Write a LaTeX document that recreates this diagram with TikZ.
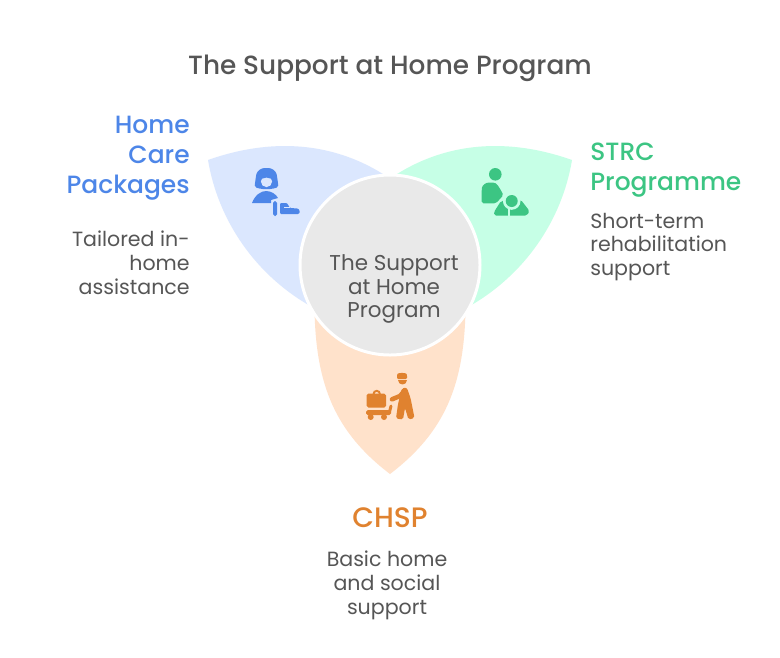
\documentclass[tikz,border=0pt]{standalone}
\usepackage{fontspec}
\setmainfont{Poppins}
\newfontfamily\medfont{Poppins Medium}
\definecolor{blueink}{HTML}{4D86E8}
\definecolor{bluepetal}{HTML}{DBE7FE}
\definecolor{greenink}{HTML}{3CC583}
\definecolor{greenpetal}{HTML}{C6FFE6}
\definecolor{orangeink}{HTML}{E0822F}
\definecolor{orangepetal}{HTML}{FFE2CB}
\definecolor{hubgray}{HTML}{E9E9E9}
\definecolor{textgray}{HTML}{565656}
\tikzset{
  headtext/.style={inner sep=0pt,font=\medfont\fontsize{14.2}{17}\selectfont},
  bodytext/.style={inner sep=0pt,text=textgray,font=\fontsize{11.7}{13.6}\selectfont},
}
\begin{document}
\begin{tikzpicture}[x=0.02cm,y=0.02cm]
\useasboundingbox (0,0) rectangle (780,-657);
\fill [white] (0,0) rectangle (780,-657);
% petals
\fill [bluepetal] (208,-160) .. controls (270,-138) and (335,-140) .. (392,-180) -- (390,-265) -- (312,-307) .. controls (255,-275) and (218,-220) .. (208,-160);
\fill [greenpetal] (572,-160) .. controls (510,-138) and (445,-140) .. (388,-180) -- (390,-265) -- (468,-307) .. controls (525,-275) and (562,-220) .. (572,-160);
\fill [orangepetal] (314.5,-300) -- (314.5,-310) .. controls (316,-385) and (335,-432) .. (390,-474) .. controls (445,-432) and (464,-385) .. (465.5,-310) -- (465.5,-300) -- cycle;
\draw [white,line width=1.7pt,fill=hubgray] (390,-265) circle (90);
% blue icon
\fill [blueink,rounded corners=1pt] (254.5,-187) -- (256,-176) .. controls (257,-171) and (261,-168) .. (266.5,-168) .. controls (272,-168) and (276,-171) .. (277,-176) -- (278.5,-187) -- (272,-189) -- (261,-189) -- cycle;
\fill [bluepetal] (266.5,-181.5) circle (5.6);
\fill [blueink] (260.5,-179) -- (266.5,-177.5) -- (272.5,-179) -- (272,-175) -- (261,-175) -- cycle;
\fill [blueink] (252,-203) .. controls (255,-195) and (261,-191) .. (266,-191) .. controls (271,-191) and (276,-194) .. (278,-198) -- (271,-200) -- (271,-203) -- cycle;
\fill [blueink,rounded corners=1pt] (273,-201) rectangle (277,-216);
\fill [blueink,rounded corners=0.6pt] (280,-203) -- (287,-203) -- (290,-208) -- (298,-208.5) -- (300,-211) -- (299,-214) -- (280,-214) -- cycle;
\fill [bluepetal] (284,-206.5) rectangle (290,-208);
% green icon
\fill [greenink] (495.3,-174.3) circle (6.3);
\fill [greenink,rounded corners=1pt] (481.7,-203.3) -- (481.7,-190) .. controls (482,-185) and (486,-182.5) .. (491,-182.5) .. controls (497,-182.5) and (499,-187) .. (503.5,-195) -- (499,-200) -- (496,-203.3) -- cycle;
\fill [greenink,rounded corners=1pt] (494,-215.5) -- (494,-212) -- (501,-201) -- (521,-200) -- (529.5,-211) -- (527,-215.5) -- cycle;
\fill [greenpetal] (511.7,-201) circle (8.8);
\fill [greenpetal] (507.5,-208) rectangle (510,-216);
\fill [greenink] (511.7,-201) circle (6);
% orange icon
\fill [orangeink,rounded corners=0.6pt] (397,-379) -- (397,-375) .. controls (398,-372.5) and (406,-372.5) .. (407,-375) -- (407,-379) -- cycle;
\fill [orangeink] (397.5,-380) -- (406.5,-380) .. controls (406.5,-386) and (397.5,-386) .. (397.5,-380) -- cycle;
\fill [orangeink,rounded corners=1pt] (366.7,-407.5) rectangle (386,-393.5);
\draw [orangeink,line width=1.1pt] (373.5,-394) arc (180:0:3.2);
\fill [orangeink,rounded corners=1pt] (366,-410) rectangle (391,-415);
\draw [orangeink,line width=1.7pt,line cap=round] (389.5,-412) -- (391,-406);
\fill [orangeink] (370.7,-417) circle (3);
\fill [orangeink] (384,-417) circle (3);
\draw [orangeink,line width=2.6pt,line cap=round,line join=round] (392,-399.3) -- (400,-396) -- (405,-390);
\fill [orangeink,rounded corners=1pt] (402,-388) -- (407,-388) -- (410.5,-398) -- (414.5,-418) -- (408.5,-419.5) -- (405,-408) -- (403,-419.5) -- (396,-418.5) -- (398,-404) -- cycle;
% labels
\node [inner sep=0pt,text=textgray,font=\medfont\fontsize{15}{18}\selectfont] (title) at (390,-68) {The Support at Home Program};
\node [headtext,text=blueink,align=right,anchor=east] (homecare) at (190,-158) {Home\\Care\\Packages};
\node [bodytext,align=right,anchor=east] (homecaredesc) at (190,-263) {Tailored in-\\home\\assistance};
\node [headtext,text=greenink,align=left,anchor=west] (strc) at (590,-170) {STRC\\Programme};
\node [bodytext,align=left,anchor=west] (strcdesc) at (590,-247) {Short-term\\rehabilitation\\support};
\node [headtext,text=orangeink,font=\medfont\fontsize{16}{17}\selectfont] (chsp) at (390,-518) {CHSP};
\node [bodytext,align=center] (chspdesc) at (387,-585) {Basic home\\and social\\support};
\node [bodytext,align=center,font=\fontsize{12.2}{13.6}\selectfont] (hub) at (394,-289) {The Support\\at Home\\Program};
\end{tikzpicture}
\end{document}
